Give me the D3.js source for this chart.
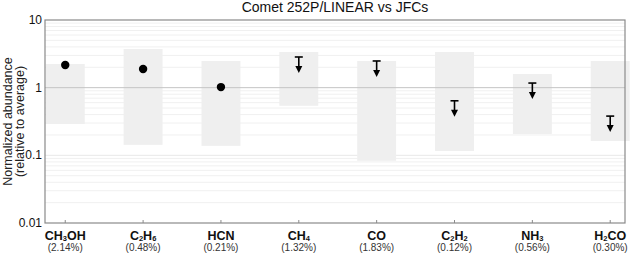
<html lang="en">
<head>
    <meta charset="UTF-8">
    <title>Comet 252P/LINEAR vs JFCs</title>
    <script src="https://d3js.org/d3.v7.min.js"></script>
    <style>
        body { margin: 0; background: #fff; }
        text { font-family: "Liberation Sans", Arial, sans-serif; }
    </style>
</head>
<body>
    <div id="chart"></div>
    <script>
        // molecule names as [text, isSubscript] pieces
        var molecules = [
            [["CH", 0], ["3", 1], ["OH", 0]],
            [["C", 0], ["2", 1], ["H", 0], ["6", 1]],
            [["HCN", 0]],
            [["CH", 0], ["4", 1]],
            [["CO", 0]],
            [["C", 0], ["2", 1], ["H", 0], ["2", 1]],
            [["NH", 0], ["3", 1]],
            [["H", 0], ["2", 1], ["CO", 0]]
        ];
        var percents = ["(2.14%)", "(0.48%)", "(0.21%)", "(1.32%)", "(1.83%)", "(0.12%)", "(0.56%)", "(0.30%)"];
        // JFC range (grey boxes)
        var rangeLow  = [0.29, 0.143, 0.138, 0.54, 0.083, 0.116, 0.207, 0.163];
        var rangeHigh = [2.24, 3.73, 2.48, 3.37, 2.48, 3.37, 1.59, 2.48];
        // 252P detections (null = upper limit only)
        var detected   = [2.16, 1.89, 1.02, null, null, null, null, null];
        var upperLimit = [null, null, null, 2.84, 2.48, 0.64, 1.17, 0.38];
        var yTicks = [0.01, 0.1, 1, 10];
        var yTickLabels = ["0.01", "0.1", "1", "10"];

        var width = 630, height = 253;
        var pLeft = 45, pRight = 625, pTop = 20, pBottom = 223;

        var svg = d3.select("#chart").append("svg")
            .attr("width", width)
            .attr("height", height);

        var x = d3.scaleLinear().domain([0.74, 8.19]).range([pLeft, pRight]);
        var y = d3.scaleLog().domain([0.01, 10]).range([pBottom, pTop]);

        // minor grid
        var minor = [];
        [0.01, 0.1, 1].forEach(function(d){
            for (var k = 2; k <= 9; k++) minor.push(d * k);
        });
        svg.selectAll(".minor").data(minor).enter().append("line")
            .attr("x1", pLeft).attr("x2", pRight)
            .attr("y1", function(d){ return y(d); })
            .attr("y2", function(d){ return y(d); })
            .attr("stroke", "#f0f0f0").attr("stroke-width", 1);
        svg.append("line")
            .attr("x1", pLeft).attr("x2", pRight)
            .attr("y1", y(0.1)).attr("y2", y(0.1))
            .attr("stroke", "#e8e8e8");

        // range boxes
        var bw = x(1.25) - x(0.75);
        svg.selectAll(".box").data(rangeLow).enter().append("rect")
            .attr("x", function(d, i){ return x(i + 1) - bw / 2; })
            .attr("y", function(d, i){ return y(rangeHigh[i]); })
            .attr("width", bw)
            .attr("height", function(d, i){ return y(d) - y(rangeHigh[i]); })
            .attr("fill", "#efefef");

        // line at 1
        svg.append("line")
            .attr("x1", pLeft).attr("x2", pRight)
            .attr("y1", y(1)).attr("y2", y(1))
            .attr("stroke", "#c4c4c4").attr("stroke-width", 1);

        // frame
        svg.append("rect")
            .attr("x", pLeft).attr("y", pTop)
            .attr("width", pRight - pLeft).attr("height", pBottom - pTop)
            .attr("fill", "none").attr("stroke", "#8a8a8a").attr("stroke-width", 1.2);

        // x ticks
        svg.selectAll(".xtick").data(percents).enter().append("line")
            .attr("x1", function(d, i){ return x(i + 1); })
            .attr("x2", function(d, i){ return x(i + 1); })
            .attr("y1", pBottom).attr("y2", pBottom - 3)
            .attr("stroke", "#8a8a8a");

        // y tick labels
        svg.selectAll(".ylab").data(yTicks).enter().append("text")
            .attr("x", pLeft - 3)
            .attr("y", function(d){ return y(d) + 4; })
            .attr("text-anchor", "end")
            .attr("font-size", 12)
            .attr("fill", "#111")
            .text(function(d, i){ return yTickLabels[i]; });

        // y axis title
        var yt = svg.append("text")
            .attr("transform", "translate(11.5," + ((pTop + pBottom) / 2) + ") rotate(-90)")
            .attr("text-anchor", "middle")
            .attr("font-size", 12.5)
            .attr("fill", "#222");
        yt.append("tspan").attr("x", 0).attr("dy", 0).text("Normalized abundance");
        yt.append("tspan").attr("x", 0).attr("dy", 12.5).text("(relative to average)");

        // title
        svg.append("text")
            .attr("x", (pLeft + pRight) / 2)
            .attr("y", 12)
            .attr("text-anchor", "middle")
            .attr("font-size", 14)
            .attr("fill", "#111")
            .text("Comet 252P/LINEAR vs JFCs");

        // category labels
        molecules.forEach(function(parts, i){
            var t = svg.append("text")
                .attr("x", x(i + 1))
                .attr("y", 240)
                .attr("text-anchor", "middle")
                .attr("font-size", 12.5)
                .attr("font-weight", "bold")
                .attr("fill", "#111");
            var sub = false;
            parts.forEach(function(p){
                var ts = t.append("tspan").text(p[0]);
                if (p[1] && !sub) { ts.attr("font-size", 7.5).attr("dy", 1); sub = true; }
                else if (!p[1] && sub) { ts.attr("dy", -1); sub = false; }
                else if (p[1]) { ts.attr("font-size", 7.5); }
            });
            svg.append("text")
                .attr("x", x(i + 1))
                .attr("y", 251)
                .attr("text-anchor", "middle")
                .attr("font-size", 10)
                .attr("fill", "#333")
                .text(percents[i]);
        });

        // detections
        detected.forEach(function(d, i){
            if (d === null) return;
            svg.append("circle")
                .attr("cx", x(i + 1))
                .attr("cy", y(d))
                .attr("r", 4.2)
                .attr("fill", "#000");
        });

        // upper limits
        upperLimit.forEach(function(d, i){
            if (d === null) return;
            var cx = x(i + 1), cy = y(d);
            var g = svg.append("g");
            g.append("line").attr("x1", cx - 4).attr("x2", cx + 4)
                .attr("y1", cy).attr("y2", cy)
                .attr("stroke", "#000").attr("stroke-width", 1.6);
            g.append("line").attr("x1", cx).attr("x2", cx)
                .attr("y1", cy).attr("y2", cy + 11)
                .attr("stroke", "#000").attr("stroke-width", 1.6);
            g.append("path")
                .attr("d", "M" + (cx - 3.5) + "," + (cy + 9) + "L" + (cx + 3.5) + "," + (cy + 9) + "L" + cx + "," + (cy + 16) + "Z")
                .attr("fill", "#000");
        });
    </script>
</body>
</html>
